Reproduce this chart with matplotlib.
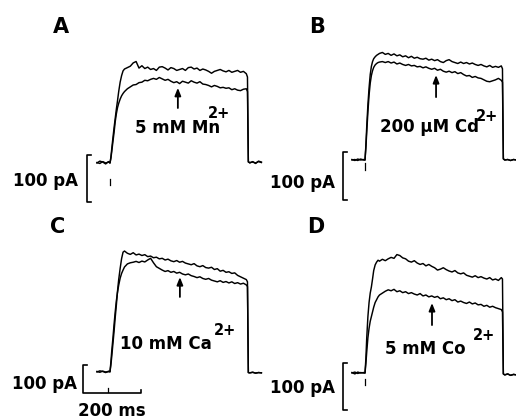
import matplotlib
matplotlib.use('Agg')
import matplotlib.pyplot as plt

# time base shared by all four recordings (ms, pulse starts at 0)
T = [-45, -35, -25, -15, -5, 0,
     3, 6, 10, 14, 18, 22, 26, 30, 35, 40, 45, 50,
     60, 70, 80, 90, 100, 110, 120, 130, 140, 150,
     160, 170, 180, 190, 200, 210, 220, 230, 240, 250,
     260, 270, 280, 290, 300, 310, 320, 330, 340, 350,
     360, 370, 380, 390, 400, 410, 420, 430, 440, 450,
     460, 470,
     474, 477, 482, 492, 502, 512, 522]

# currents in pA: control trace and trace in the test solution
a_ctrl = [0, 4, 2, -2, 3, 0,
          12, 30, 53, 75, 95, 115, 133, 152, 172, 186, 196, 200,
          203, 206, 213, 216, 202, 207, 201, 204, 199, 201,
          197, 204, 205, 202, 198, 203, 201, 197, 199, 201,
          197, 203, 204, 200, 202, 197, 200, 198, 195, 191,
          195, 197, 199, 196, 194, 197, 193, 195, 197, 193,
          195, 190,
          183, 3, 0, 3, -1, 4, 2]
a_test = [1, -1, 3, 0, 2, 0,
          10, 24, 45, 65, 88, 105, 118, 127, 136, 143, 148, 152,
          158, 162, 166, 167, 171, 172, 176, 175, 178, 180,
          178, 182, 179, 176, 178, 174, 171, 173, 169, 174,
          172, 170, 175, 172, 170, 173, 168, 167, 165, 162,
          165, 163, 160, 161, 159, 160, 156, 158, 155, 154,
          157, 158,
          152, 2, 1, 2, 0, 3, 1]

b_ctrl = [1, -1, 2, 0, 1, 0,
          30, 70, 115, 150, 178, 195, 205, 211, 215, 218, 220, 222,
          224, 220, 222, 218, 221, 217, 219, 215, 217, 213,
          216, 212, 214, 211, 210, 212, 208, 210, 207, 209,
          205, 203, 207, 209, 205, 203, 201, 204, 201, 203,
          200, 202, 199, 197, 199, 196, 194, 197, 193, 195,
          193, 196,
          190, 3, 0, 1, -1, 1, 0]
b_test = [0, 1, -1, 2, 0, 0,
          25, 58, 100, 135, 160, 176, 186, 193, 198, 201, 203, 204,
          205, 203, 205, 202, 204, 200, 202, 199, 197, 199,
          196, 197, 194, 195, 192, 194, 191, 189, 191, 187,
          189, 185, 183, 185, 182, 184, 180, 182, 178, 175,
          176, 172, 174, 171, 170, 167, 164, 163, 165, 167,
          170, 166,
          162, 2, 0, 1, -1, 1, 0]

c_ctrl = [0, 4, 2, -2, 3, 2,
          25, 55, 100, 145, 195, 240, 290, 330, 370, 405, 428, 432,
          424, 420, 426, 418, 421, 416, 419, 412, 414, 408,
          410, 404, 406, 400, 403, 397, 394, 398, 392, 395,
          389, 386, 383, 387, 379, 376, 380, 373, 371, 374,
          366, 369, 360, 363, 356, 358, 352, 354, 345, 340,
          335, 330,
          322, -2, -3, -1, -4, -2, -3]
c_test = [2, -1, 3, 0, 1, 0,
          35, 75, 120, 170, 215, 255, 285, 310, 335, 352, 364, 375,
          386, 390, 392, 395, 391, 396, 393, 400, 406, 390,
          376, 370, 364, 359, 362, 356, 359, 353, 356, 350,
          347, 350, 344, 341, 337, 340, 334, 331, 334, 328,
          325, 322, 326, 320, 323, 318, 322, 316, 319, 314,
          317, 311,
          305, -2, -3, -1, -4, -2, -3]

d_ctrl = [1, -2, 2, 0, 1, 0,
          30, 75, 120, 150, 170, 183, 200, 218, 230, 236, 240, 238,
          242, 239, 243, 246, 244, 252, 250, 245, 243, 238,
          236, 239, 234, 231, 233, 228, 231, 227, 224, 219,
          221, 224, 220, 217, 215, 218, 213, 211, 213, 208,
          206, 204, 207, 203, 205, 202, 200, 203, 198, 200,
          197, 203,
          200, -2, -4, -2, -5, -3, -4]
d_test = [0, 2, -1, 1, 0, 0,
          20, 45, 75, 95, 110, 120, 130, 140, 150, 156, 162, 166,
          170, 174, 177, 175, 178, 173, 175, 171, 173, 169,
          171, 168, 166, 169, 164, 166, 162, 164, 161, 163,
          158, 160, 156, 158, 154, 156, 151, 153, 150, 148,
          151, 147, 149, 145, 146, 142, 144, 140, 142, 139,
          137, 135,
          130, -2, -4, -2, -5, -3, -4]

letters = ['A', 'B', 'C', 'D']
ions = ['5 mM Mn', '200 µM Cd', '10 mM Ca', '5 mM Co']
arrow_t = [234, 245, 241, 231]          # ms
arrow_tip = [160, 177, 339, 149]        # pA
arrow_tail = [117, 131, 268, 102]
bar_t = [-79, -76, -93, -76]            # where the 100 pA bar sits
bar_top = [17, 17, 25, 21]
stim_t = [0, 0, -7, 0]
stim_lo = [-47, -21, -71, -26]
stim_hi = [-35, -6, -57, -12]

W, H = 516, 420
fig = plt.figure(figsize=(W / 100, H / 100), dpi=100)

# panel boxes in pixels: left, right, top, bottom, pulse onset x, baseline y, ms/px, pA/px
boxes = [(0, 258, 0, 210, 110, 163, 3.448, 2.128),
         (258, 516, 0, 210, 365, 160, 3.448, 2.083),
         (0, 258, 210, 420, 110, 372, 3.448, 3.571),
         (258, 516, 210, 420, 365, 373, 3.448, 2.128)]

# text spots in pixels
letter_xy = [(61, 27), (317, 27), (58, 227), (316, 227)]
ion_xy = [(135, 133), (380, 132), (120, 349), (385, 354)]
sup_xy = [(208, 118), (476, 121), (214, 335), (473, 340)]
pa_xy = [(78, 186), (335, 188), (77, 389), (335, 393)]

traces = [(a_ctrl, a_test), (b_ctrl, b_test), (c_ctrl, c_test), (d_ctrl, d_test)]

bold = dict(family='DejaVu Sans', fontweight='bold', color='black')

for i, (l, r, tp, bt, x0, y0, mspx, papx) in enumerate(boxes):
    ax = fig.add_axes([l / W, 1 - bt / H, (r - l) / W, (bt - tp) / H])
    ax.set_xlim((l - x0) * mspx, (r - x0) * mspx)
    ax.set_ylim((y0 - bt) * papx, (y0 - tp) * papx)
    ax.axis('off')
    ax.patch.set_alpha(0)

    for tr in traces[i]:
        ax.plot(T, tr, color='black', lw=1.05, clip_on=False)

    # stimulus marker
    ax.plot([stim_t[i], stim_t[i]], [stim_lo[i], stim_hi[i]], color='black', lw=0.9)

    # 100 pA scale bracket
    tb, top = bar_t[i], bar_top[i]
    tick = 4 * mspx
    if i == 2:
        ax.plot([tb + tick, tb, tb, tb + 200, tb + 200],
                [top, top, top - 100, top - 100, top - 100 + 3 * papx],
                color='black', lw=1.2, clip_on=False)
    else:
        ax.plot([tb + tick, tb, tb, tb + tick],
                [top, top, top - 100, top - 100], color='black', lw=1.2, clip_on=False)

    ax.annotate('', xy=(arrow_t[i], arrow_tip[i]), xytext=(arrow_t[i], arrow_tail[i]),
                arrowprops=dict(arrowstyle='-|>,head_length=0.45,head_width=0.18',
                                color='black', lw=1.3, shrinkA=0, shrinkB=0))

    fig.text(letter_xy[i][0] / W, 1 - letter_xy[i][1] / H, letters[i], fontsize=15,
             ha='center', va='center', **bold)
    fig.text(ion_xy[i][0] / W, 1 - ion_xy[i][1] / H, ions[i], fontsize=12,
             ha='left', va='baseline', **bold)
    fig.text(sup_xy[i][0] / W, 1 - sup_xy[i][1] / H, '2+', fontsize=10.5,
             ha='left', va='baseline', **bold)
    fig.text(pa_xy[i][0] / W, 1 - pa_xy[i][1] / H, '100 pA', fontsize=12,
             ha='right', va='baseline', **bold)

fig.text(112 / W, 1 - 416 / H, '200 ms', fontsize=12, ha='center', va='baseline', **bold)

fig.savefig('out.png', dpi=100, facecolor='white')
